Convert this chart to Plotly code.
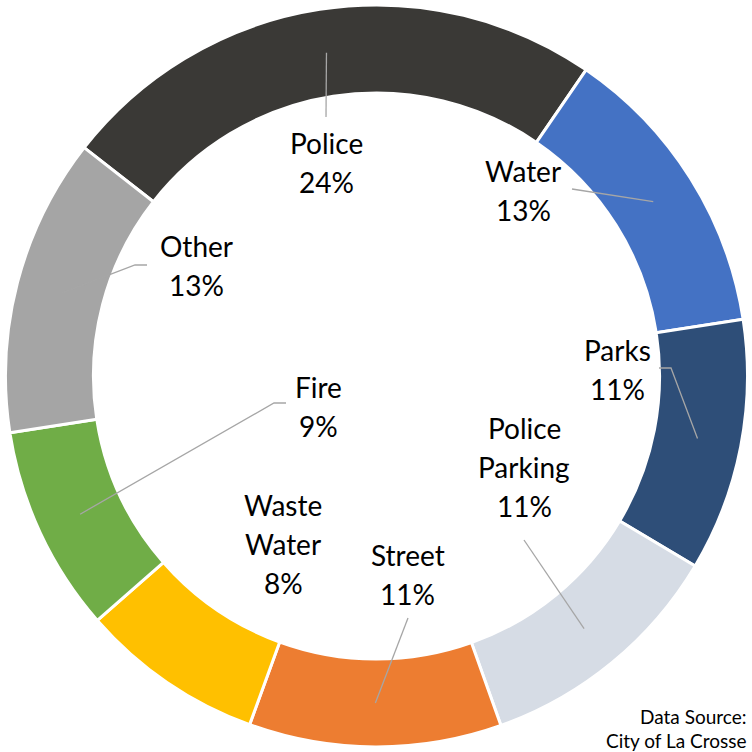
import math
import plotly.graph_objects as go

# ---- data ----
categories = ["Police", "Water", "Parks", "Police Parking", "Street", "Waste Water", "Fire", "Other"]
values = [24, 13, 11, 11, 11, 8, 9, 13]
label_lines = [["Police"], ["Water"], ["Parks"], ["Police", "Parking"], ["Street"],
               ["Waste", "Water"], ["Fire"], ["Other"]]

# ---- styles / positions (pixels in a 752x752 canvas) ----
colors = ["#3A3936", "#4472C4", "#2E4E78", "#D6DCE5", "#ED7D31", "#FFC000", "#70AD47", "#A5A5A5"]
W = H = 752
CX, CY = 376.5, 376
R_OUT = 371
HOLE = 0.763
ROTATION = -52
FONT = "Lato"
FS = 28
LINE_GAP = 39

# label first-line centre (px)
label_pos = [(326, 143), (523, 171), (617, 350), (524, 428), (408, 555),
             (283, 505), (318, 387), (196, 246)]
# leader line: list of points from label side to slice (slice point computed)
leader_pts = [[(326, 117)], [(572, 189)], [(659, 368), (671, 368)], [(524, 540)],
              [(408, 618)], None, [(286, 403), (274, 403)], [(147, 265), (135, 265)]]


def px2paper(x, y):
    return x / W, 1 - y / H


fig = go.Figure()
fig.add_trace(go.Pie(
    labels=categories, values=values, sort=False, direction="clockwise",
    rotation=ROTATION, hole=HOLE,
    marker=dict(colors=colors, line=dict(color="white", width=3)),
    textinfo="none", hoverinfo="label+percent", showlegend=False,
    domain=dict(x=[(CX - R_OUT) / W, (CX + R_OUT) / W],
                y=[1 - (CY + R_OUT) / H, 1 - (CY - R_OUT) / H]),
))

total = sum(values)
r_mid = R_OUT * (1 + HOLE) / 2
cum = 0
annotations = []
shapes = []
for i, (cat, v) in enumerate(zip(categories, values)):
    mid = ROTATION + (cum + v / 2) / total * 360
    cum += v
    a = math.radians(mid)
    sx, sy = CX + r_mid * math.sin(a), CY - r_mid * math.cos(a)
    pct = round(v / total * 100)
    lines = label_lines[i] + [f"{pct}%"]
    lx, ly = label_pos[i]
    for j, t in enumerate(lines):
        px, py = px2paper(lx, ly + j * LINE_GAP)
        annotations.append(dict(x=px, y=py, xref="paper", yref="paper", text=t,
                                showarrow=False, xanchor="center", yanchor="middle",
                                font=dict(family=FONT, size=FS, color="#000000")))
    if leader_pts[i]:
        pts = leader_pts[i] + [(sx, sy)]
        path = ""
        for k, (x, y) in enumerate(pts):
            px, py = px2paper(x, y)
            path += ("M " if k == 0 else " L ") + f"{px:.5f},{py:.5f}"
        shapes.append(dict(type="path", path=path, xref="paper", yref="paper",
                           line=dict(color="#A6A6A6", width=1.3)))

for t, y in [("Data Source:", 716), ("City of La Crosse", 740)]:
    px, py = px2paper(748, y)
    annotations.append(dict(x=px, y=py, xref="paper", yref="paper", text=t,
                            showarrow=False, xanchor="right", yanchor="middle",
                            font=dict(family=FONT, size=19, color="#000000")))

fig.update_layout(width=W, height=H, margin=dict(l=0, r=0, t=0, b=0),
                  paper_bgcolor="white", plot_bgcolor="white",
                  annotations=annotations, shapes=shapes)
fig.write_html("out.html", config={"displayModeBar": False},
               post_script="document.body.style.margin='0';document.body.style.overflow='hidden';")
